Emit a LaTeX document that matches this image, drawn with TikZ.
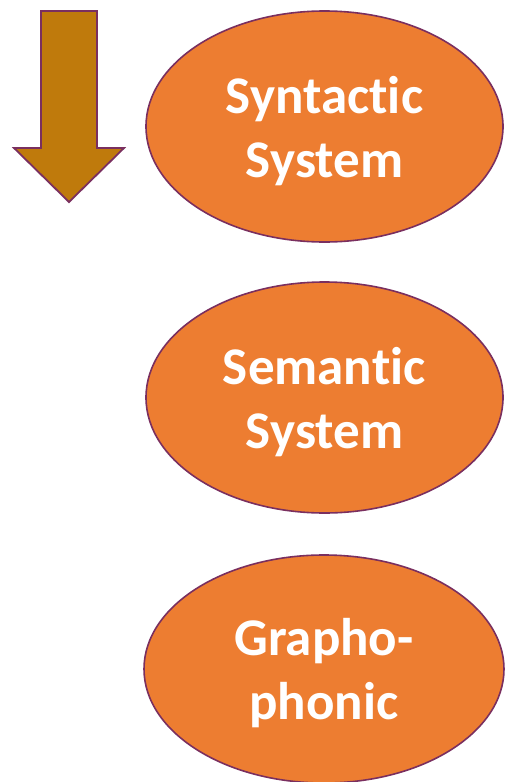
\documentclass[tikz,border=0pt]{standalone}
\usepackage{fontspec}
\setmainfont{Carlito}[Ligatures={NoCommon,NoRequired,NoContextual}]
\usetikzlibrary{shapes.geometric}
\definecolor{orangefill}{HTML}{ED7D31}
\definecolor{plumline}{HTML}{7A2F5F}
\definecolor{arrowfill}{HTML}{BF7A0C}
\tikzset{
  sysnode/.style={ellipse, draw=plumline, line width=1.6pt, fill=orangefill,
    minimum width=357pt, minimum height=231pt, inner sep=0pt},
  systext/.style={align=center, inner sep=0pt,
    text=white, font=\fontsize{53}{64}\selectfont\bfseries}
}
\begin{document}
\begin{tikzpicture}[x=1pt,y=-1pt]
\useasboundingbox (0,0) rectangle (506,782);
\draw[fill=arrowfill, draw=plumline, line width=1.8pt, line join=miter]
  (41,11) -- (97,11) -- (97,148) -- (124,148) -- (69,202) -- (14,148) -- (41,148) -- cycle;
\node[sysnode] (syn) at (324.5,126.5) {};
\node[sysnode] (sem) at (324.5,397.5) {};
\node[sysnode, minimum width=360pt, minimum height=228pt] (gra) at (324,669) {};
\node[systext] (syntext) at ([yshift=-4.5pt]syn.center) {Syntac\kern0pt tic\\System};
\node[systext] (semtext) at ([yshift=-4.5pt]sem.center) {Seman\kern0pt tic\\System};
\node[systext] (gratext) at ([yshift=-4pt]gra.center) {Grapho-\\phonic};
\end{tikzpicture}
\end{document}
